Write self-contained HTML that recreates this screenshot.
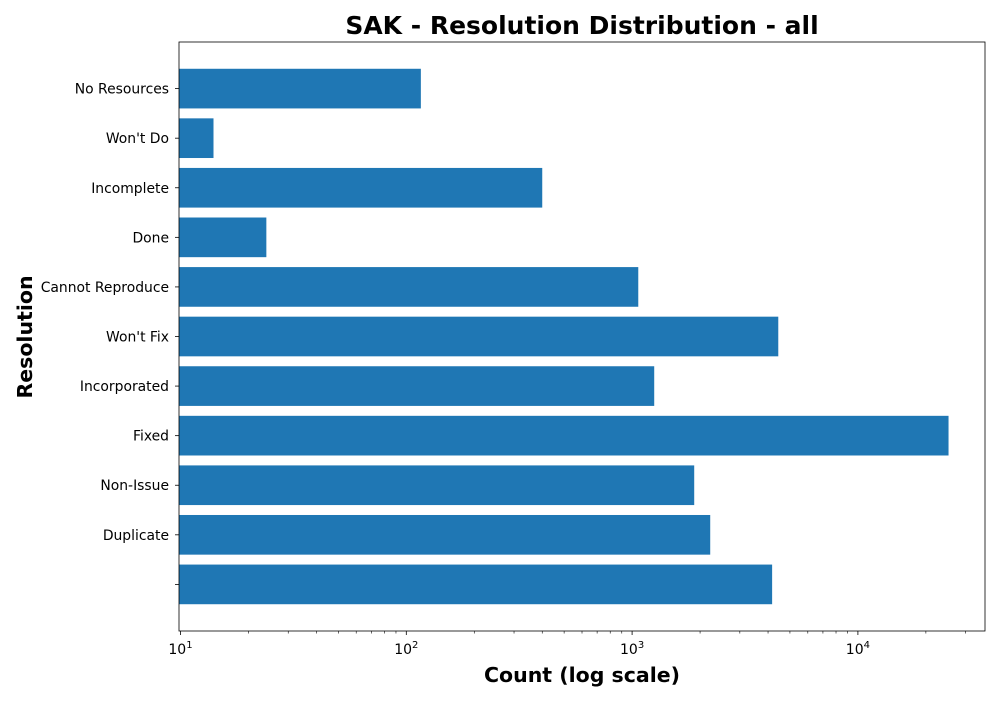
<!DOCTYPE html>
<html><head><meta charset="utf-8"><style>
body{margin:0;background:#fff;}
svg text{font-family:"DejaVu Sans","Liberation Sans",sans-serif;}
</style></head><body>
<svg id="chart" width="1000" height="700" xmlns="http://www.w3.org/2000/svg">
<text x="582" y="34" text-anchor="middle" font-size="25" font-weight="bold">SAK - Resolution Distribution - all</text>
<text x="582" y="682" text-anchor="middle" font-size="20.5" font-weight="bold">Count (log scale)</text>
<text transform="translate(32,337) rotate(-90)" text-anchor="middle" font-size="20.5" font-weight="bold">Resolution</text>
<g id="bars"></g><g id="axes"></g>
</svg>
<script>
const categories=["","Duplicate","Non-Issue","Fixed","Incorporated","Won't Fix","Cannot Reproduce","Done","Incomplete","Won't Do","No Resources"];
const counts=[4170,2218,1884,25200,1253,4440,1065,24,400,14,116];
const xTickExps=[1,2,3,4];
const L=179,R=985,T=42,B=631;
const ns="http://www.w3.org/2000/svg";
function x(v){return 180.5+(Math.log10(v)-1)*225.8;}
const yMin=-0.94,yMax=categories.length-1+0.94;
function y(i){return B-(i-yMin)/(yMax-yMin)*(B-T);}
const unit=(B-T)/(yMax-yMin);
function mk(t,a,p){const e=document.createElementNS(ns,t);for(const k in a)e.setAttribute(k,a[k]);p.appendChild(e);return e;}
const bars=document.getElementById('bars'),axes=document.getElementById('axes');
categories.forEach((c,i)=>{
  const r=mk('rect',{x:L,y:y(i)-0.4*unit,width:Math.max(0,x(counts[i])-L),height:0.8*unit,fill:'#1f77b4'},bars);
  
  
  mk('line',{x1:L-4,x2:L,y1:y(i),y2:y(i),stroke:'#000','stroke-width':0.8},axes);
  const t=mk('text',{x:L-10,y:y(i)+5,'text-anchor':'end','font-size':13.9},axes);
  t.textContent=c;
  
  
});
xTickExps.forEach(e=>{
  const p=x(Math.pow(10,e));
  mk('line',{x1:p,x2:p,y1:B,y2:B+4,stroke:'#000','stroke-width':0.8},axes);
  const t=mk('text',{x:p,y:B+23,'text-anchor':'middle','font-size':14},axes);
  
  
  t.textContent='10';
  const s=mk('tspan',{dy:-6,'font-size':10},t);s.textContent=e;
  for(let m=2;m<10;m++){const q=x(m*Math.pow(10,e));if(q<R)mk('line',{x1:q,x2:q,y1:B,y2:B+2.5,stroke:'#000','stroke-width':0.6},axes);}
});
const f=mk('rect',{x:L,y:T,width:R-L,height:B-T,fill:'none',stroke:'#000','stroke-width':0.8},axes);


</script>
</body></html>
